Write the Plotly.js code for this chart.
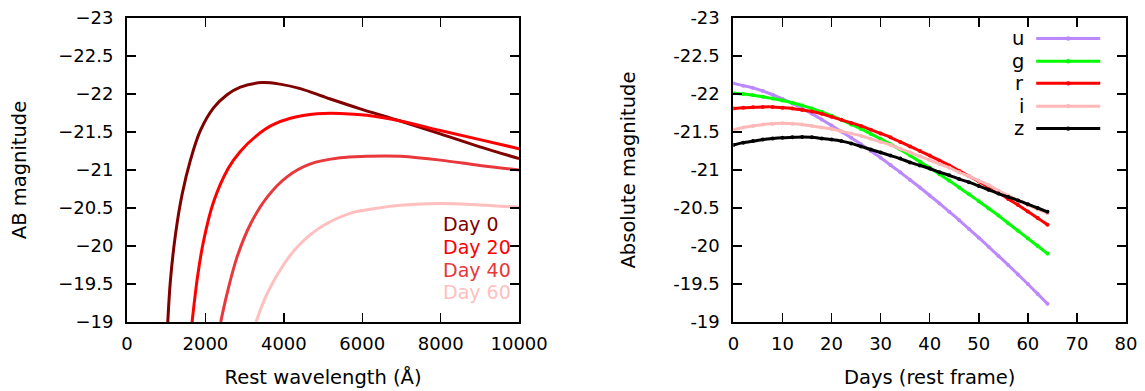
<!DOCTYPE html>
<html>
<head>
<meta charset="utf-8">
<script src="https://cdn.plot.ly/plotly-3.0.1.min.js"></script>
<style>html,body{margin:0;padding:0;background:#fff;}</style>
</head>
<body>
<div id="chart" style="width:1145px;height:391px;"></div>
<script>
// ---------- Left panel: spectra (rest wavelength in Å, AB magnitude) ----------
const spectrumLabels = ['Day 0', 'Day 20', 'Day 40', 'Day 60'];
const day0Wavelength = [1040, 1108, 1236, 1406, 1618, 1873, 2212, 2552, 2892, 3450, 3900, 4420, 5100, 5950, 6970, 7990, 9000, 10000];
const day0Mag        = [-19.0, -19.55, -20.15, -20.68, -21.13, -21.52, -21.82, -21.99, -22.09, -22.15, -22.13, -22.07, -21.95, -21.805, -21.645, -21.475, -21.305, -21.15];
const day20Wavelength = [1660, 1800, 1950, 2200, 2580, 2900, 3300, 3700, 4170, 4850, 5440, 6120, 6970, 7990, 9000, 10000];
const day20Mag        = [-19.0, -19.6, -20.06, -20.57, -21.02, -21.25, -21.45, -21.59, -21.68, -21.74, -21.745, -21.72, -21.645, -21.52, -21.40, -21.28];
const day40Wavelength = [2390, 2550, 2810, 3150, 3570, 4080, 4680, 5440, 6120, 6600, 6970, 7990, 9000, 10000];
const day40Mag        = [-19.0, -19.37, -19.86, -20.29, -20.64, -20.91, -21.08, -21.16, -21.18, -21.185, -21.18, -21.13, -21.06, -21.0];
const day60Wavelength = [3290, 3570, 4000, 4420, 5010, 5690, 6290, 6970, 7990, 9000, 10000];
const day60Mag        = [-19.0, -19.37, -19.76, -20.03, -20.27, -20.43, -20.49, -20.535, -20.56, -20.54, -20.51];

// ---------- Right panel: light curves (days, absolute magnitude) ----------
const bandNames = ['u', 'g', 'r', 'i', 'z'];
const days = [0, 2, 4, 6, 8, 10, 12, 14, 16, 18, 20, 22, 24, 26, 28, 30, 32, 34, 36, 38, 40, 42, 44, 46, 48, 50, 52, 54, 56, 58, 60, 62, 64];
const uMag = [-22.14, -22.11, -22.08, -22.04, -21.99, -21.935, -21.875, -21.81, -21.74, -21.665, -21.585, -21.505, -21.425, -21.34, -21.25, -21.16, -21.065, -20.97, -20.87, -20.77, -20.665, -20.56, -20.45, -20.34, -20.225, -20.11, -19.99, -19.87, -19.75, -19.625, -19.50, -19.37, -19.24];
const gMag = [-22.01, -22.00, -21.985, -21.965, -21.94, -21.915, -21.885, -21.85, -21.81, -21.765, -21.715, -21.66, -21.60, -21.54, -21.475, -21.41, -21.34, -21.27, -21.19, -21.11, -21.03, -20.945, -20.86, -20.77, -20.68, -20.59, -20.495, -20.40, -20.30, -20.20, -20.10, -20.00, -19.90];
const rMag = [-21.81, -21.82, -21.825, -21.83, -21.83, -21.82, -21.81, -21.79, -21.77, -21.74, -21.70, -21.66, -21.62, -21.58, -21.53, -21.48, -21.43, -21.37, -21.31, -21.25, -21.19, -21.125, -21.06, -20.99, -20.92, -20.85, -20.775, -20.70, -20.62, -20.54, -20.455, -20.37, -20.28];
const iMag = [-21.53, -21.56, -21.58, -21.60, -21.61, -21.615, -21.61, -21.60, -21.58, -21.56, -21.54, -21.51, -21.48, -21.45, -21.41, -21.37, -21.33, -21.28, -21.23, -21.18, -21.13, -21.08, -21.03, -20.97, -20.92, -20.86, -20.80, -20.73, -20.665, -20.60, -20.54, -20.485, -20.43];
const zMag = [-21.33, -21.36, -21.38, -21.40, -21.415, -21.425, -21.43, -21.435, -21.43, -21.415, -21.40, -21.38, -21.35, -21.31, -21.27, -21.23, -21.19, -21.15, -21.10, -21.06, -21.02, -20.97, -20.93, -20.88, -20.84, -20.79, -20.74, -20.69, -20.645, -20.60, -20.55, -20.50, -20.45];

// ---------- Tick labels ----------
const magTickVals = [-23, -22.5, -22, -21.5, -21, -20.5, -20, -19.5, -19];
const leftMagTickText  = ['\u221223', '\u221222.5', '\u221222', '\u221221.5', '\u221221', '\u221220.5', '\u221220', '\u221219.5', '\u221219'];
const rightMagTickText = ['-23', '-22.5', '-22', '-21.5', '-21', '-20.5', '-20', '-19.5', '-19'];
const wavelengthTickVals = [0, 2000, 4000, 6000, 8000, 10000];
const wavelengthTickText = ['0', '2000', '4000', '6000', '8000', '10000'];
const dayTickVals = [0, 10, 20, 30, 40, 50, 60, 70, 80];

// ---------- Styles ----------
const spectrumColors = ['#800000', '#ff0000', '#e8383c', '#ffbfbf'];
const bandColors = ['#bb88ff', '#00ff00', '#ff0000', '#ffb8b8', '#000000'];
const FONT = 'DejaVu Sans, sans-serif';

const spectra = [
  [day0Wavelength, day0Mag], [day20Wavelength, day20Mag],
  [day40Wavelength, day40Mag], [day60Wavelength, day60Mag]
];
const bands = [uMag, gMag, rMag, iMag, zMag];

const traces = [];
spectra.forEach((s, k) => {
  traces.push({
    x: s[0], y: s[1], type: 'scatter', mode: 'lines', name: spectrumLabels[k],
    line: {color: spectrumColors[k], width: 3, shape: 'spline', smoothing: 1},
    xaxis: 'x', yaxis: 'y', hoverinfo: 'skip'
  });
});
bands.forEach((m, k) => {
  traces.push({
    x: days, y: m, type: 'scatter', mode: 'lines+markers', name: bandNames[k],
    line: {color: bandColors[k], width: 3, shape: 'spline', smoothing: 0.6},
    marker: {color: bandColors[k], size: 4},
    xaxis: 'x2', yaxis: 'y2', hoverinfo: 'skip'
  });
});

const axisCommon = {
  ticks: 'inside', ticklen: 9, tickwidth: 1.5, tickcolor: '#000',
  showline: true, linewidth: 2, linecolor: '#000', mirror: 'ticks',
  showgrid: false, zeroline: false,
  tickfont: {family: FONT, size: 18, color: '#000'}
};
const titleFont = {family: FONT, size: 19.5, color: '#000'};

// Legend positions (in axis units)
const leftLegendX = 8000;
const leftLegendY = [-20.295, -19.99, -19.69, -19.395];
const rightLegendLabelX = 59.6;
const rightLegendLineX = [61.7, 74.75];
const rightLegendY = [-22.73, -22.43, -22.14, -21.84, -21.545];

const annotations = [];
const shapes = [];
spectrumLabels.forEach((t, k) => {
  annotations.push({
    text: t, xref: 'x', yref: 'y', x: leftLegendX, y: leftLegendY[k],
    xanchor: 'left', yanchor: 'middle', showarrow: false,
    font: {family: FONT, size: 19, color: spectrumColors[k]}
  });
});
bandNames.forEach((t, k) => {
  annotations.push({
    text: t, xref: 'x2', yref: 'y2', x: rightLegendLabelX, y: rightLegendY[k],
    xanchor: 'right', yanchor: 'middle', showarrow: false,
    font: {family: FONT, size: 19.5, color: '#000'}
  });
  shapes.push({
    type: 'line', xref: 'x2', yref: 'y2',
    x0: rightLegendLineX[0], x1: rightLegendLineX[1], y0: rightLegendY[k], y1: rightLegendY[k],
    line: {color: bandColors[k], width: 3}
  });
  const xc = (rightLegendLineX[0] + rightLegendLineX[1]) / 2;
  shapes.push({
    type: 'circle', xref: 'x2', yref: 'y2', xsizemode: 'pixel', ysizemode: 'pixel',
    xanchor: xc, yanchor: rightLegendY[k], x0: -2.2, x1: 2.2, y0: -2.2, y1: 2.2,
    fillcolor: bandColors[k], line: {width: 0}
  });
});

const layout = {
  width: 1145, height: 391,
  margin: {l: 126.5, r: 18.5, t: 17.7, b: 69.3, pad: 0},
  paper_bgcolor: '#fff', plot_bgcolor: '#fff',
  showlegend: false,
  font: {family: FONT, size: 18, color: '#000'},
  xaxis: Object.assign({}, axisCommon, {
    domain: [0, 0.3925], range: [0, 10000], anchor: 'y',
    tickvals: wavelengthTickVals, ticktext: wavelengthTickText, ticklabelstandoff: 4,
    title: {text: 'Rest wavelength (\u00c5)', font: titleFont, standoff: 18}
  }),
  yaxis: Object.assign({}, axisCommon, {
    domain: [0, 1], range: [-19, -23], anchor: 'x',
    tickvals: magTickVals, ticktext: leftMagTickText, ticklabelstandoff: 8,
    title: {text: 'AB magnitude', font: titleFont, standoff: 26}
  }),
  xaxis2: Object.assign({}, axisCommon, {
    domain: [0.607, 1], range: [0, 80], anchor: 'y2',
    tickvals: dayTickVals, ticklabelstandoff: 4,
    title: {text: 'Days (rest frame)', font: titleFont, standoff: 18}
  }),
  yaxis2: Object.assign({}, axisCommon, {
    domain: [0, 1], range: [-19, -23], anchor: 'x2',
    tickvals: magTickVals, ticktext: rightMagTickText, ticklabelstandoff: 8,
    title: {text: 'Absolute magnitude', font: titleFont, standoff: 32}
  }),
  annotations: annotations,
  shapes: shapes
};

Plotly.newPlot('chart', traces, layout, {staticPlot: true, displayModeBar: false});
</script>
</body>
</html>
